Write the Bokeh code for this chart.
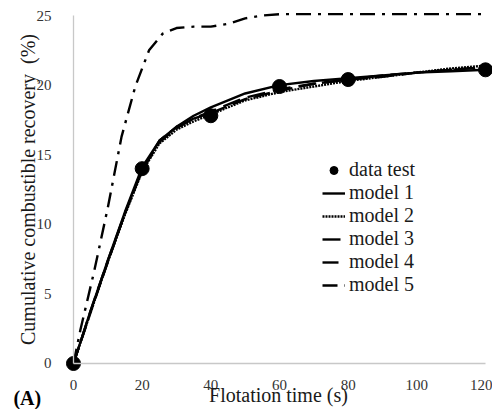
from bokeh.plotting import figure
from bokeh.models import Range1d, Label, Legend, LegendItem, FixedTicker
from bokeh.embed import file_html
from bokeh.resources import INLINE

# ---- data ----
t_test = [0, 20, 40, 60, 80, 120]
r_test = [0, 14.0, 17.8, 19.9, 20.4, 21.1]

t_mod = [0, 5, 10, 15, 20, 25, 30, 35, 40, 50, 60, 70, 80, 90, 100, 110, 120]
m1 = [0, 3.8, 7.4, 10.9, 14.1, 16.0, 17.0, 17.8, 18.4, 19.4, 20.0, 20.3, 20.5, 20.7, 20.9, 21.0, 21.1]
m2 = [0, 3.7, 7.3, 10.7, 13.8, 15.8, 16.8, 17.4, 17.9, 18.9, 19.5, 19.9, 20.3, 20.6, 20.9, 21.2, 21.4]
m3 = [0, 3.8, 7.4, 10.8, 13.9, 15.9, 16.9, 17.6, 18.1, 19.1, 19.7, 20.1, 20.4, 20.6, 20.9, 21.1, 21.3]
m4 = [0, 3.7, 7.3, 10.8, 13.9, 16.0, 17.0, 17.6, 18.0, 19.0, 19.6, 20.1, 20.4, 20.7, 20.9, 21.1, 21.3]

t5 = [0, 2, 6, 10, 14, 18, 22, 26, 30, 35, 40, 45, 50, 55, 60, 80, 100, 120]
m5 = [0, 2.4, 6.6, 11.2, 16.3, 19.9, 22.5, 23.7, 24.1, 24.2, 24.2, 24.4, 24.8, 25.0, 25.1, 25.1, 25.1, 25.1]

x_ticks = [0, 20, 40, 60, 80, 100, 120]
y_ticks = [0, 5, 10, 15, 20, 25]

SERIF = "'Liberation Serif'"

p = figure(width=492, height=409, output_backend="svg", toolbar_location=None,
           x_range=Range1d(-21.26, 122.04), y_range=Range1d(-3.305, 26.08),
           min_border_left=0, min_border_right=0, min_border_top=0, min_border_bottom=0)
p.outline_line_color = None
p.grid.visible = False
p.background_fill_color = "white"

for ax in (p.xaxis[0], p.yaxis[0]):
    ax.fixed_location = 0
    ax.axis_line_color = "#c8c8c8"
    ax.axis_line_width = 1.3
    ax.major_tick_line_color = None
    ax.minor_tick_line_color = None
    ax.major_label_text_font = SERIF
    ax.major_label_text_font_size = "15px"
    ax.major_label_text_color = "#333333"

p.xaxis.bounds = (0, 120)
p.yaxis.bounds = (0, 25)
p.xaxis.ticker = FixedTicker(ticks=x_ticks)
p.yaxis.ticker = FixedTicker(ticks=y_ticks)
p.xaxis.major_label_standoff = 11
p.yaxis.major_label_standoff = 16

p.yaxis.axis_label = "Cumulative combustible recovery\u00a0 (%)"
p.yaxis.axis_label_text_font = SERIF
p.yaxis.axis_label_text_font_size = "20px"
p.yaxis.axis_label_text_font_style = "normal"
p.yaxis.axis_label_text_color = "#1a1a1a"
p.yaxis.axis_label_standoff = -5

r5 = p.line(t5, m5, line_color="black", line_width=2.4, line_dash="15 7 3 7")
r4 = p.line(t_mod, m4, line_color="black", line_width=2.4, line_dash="16 7")
r3 = p.line(t_mod, m3, line_color="black", line_width=2.4, line_dash="18 8")
r2 = p.line(t_mod, m2, line_color="black", line_width=2.4, line_dash="2 1")
r1 = p.line(t_mod, m1, line_color="black", line_width=2.4)
rd = p.scatter(t_test, r_test, size=14, color="black")

legend = Legend(items=[
    LegendItem(label="data test", renderers=[rd]),
    LegendItem(label="model 1", renderers=[r1]),
    LegendItem(label="model 2", renderers=[r2]),
    LegendItem(label="model 3", renderers=[r3]),
    LegendItem(label="model 4", renderers=[r4]),
    LegendItem(label="model 5", renderers=[r5]),
], location=(322, 113))
legend.label_text_font = SERIF
legend.label_text_font_size = "20px"
legend.label_text_color = "#1a1a1a"
legend.border_line_color = None
legend.background_fill_alpha = 0
legend.padding = 0
legend.margin = 0
legend.spacing = 0
legend.glyph_width = 23
legend.glyph_height = 20
legend.label_height = 20
legend.label_standoff = 4
p.add_layout(legend, "center")

p.add_layout(Label(x=59.7, y=-2.23, text="Flotation time (s)", text_font=SERIF,
                   text_font_size="20px", text_align="center", text_baseline="middle",
                   text_color="#1a1a1a"))
p.add_layout(Label(x=-17.5, y=-2.5, text="(A)", text_font=SERIF, text_font_size="20px",
                   text_font_style="bold", text_align="left", text_baseline="middle",
                   text_color="black"))

open("out.html", "w").write(file_html(p, INLINE))
